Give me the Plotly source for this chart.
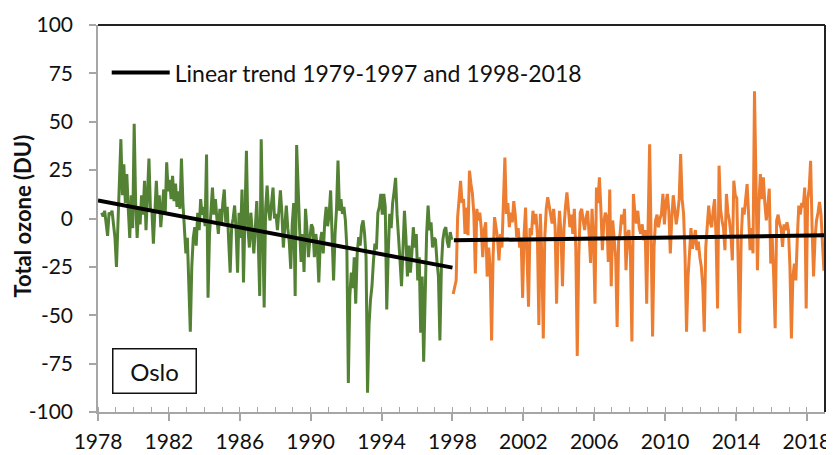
import plotly.graph_objects as go

# ---------------- data ----------------
# Green series: monthly anomalies, starting March 1978 (through Dec 1997)
green_start = (1978, 3)
green_values = [
    # 1978 (Mar-Dec)
    3, 1, 4, -2, -9, 3, 2, 4, -3, -10,
    # 1979
    -25, -2, 15, 41, 12, 28, 8, 23, 5, -10, 12, -5,
    # 1980
    49, 8, -10, 6, -3, 12, 2, 19.5, -6, 10, 31, 5,
    # 1981
    4, -13, 8, 19.5, 3, 12, -4.5, 6, 15, 2, 29, 14,
    # 1982
    20, 10, 22, 9, 18, 6, 14, 5, 31, 8, -5, -18,
    # 1983
    -10, -30, -58.5, -25, -10, -4.5, -14, 3, -6, 10, 2, 6,
    # 1984
    -4, 33, -41, -8, 4, 16, 2, 10, 0, -8, 5, -3,
    # 1985
    8, 15, -2, 6, -12, -28, -4, 0, 6.7, -6, -28, 3,
    # 1986
    -10, 15, -33, 5, 35, -5, -15, 3, -8, -18, -5, 9,
    # 1987
    -12, -40, 41, 2, -46, 5, 17, 4, -1, 8, 16, 0,
    # 1988
    2.4, -6, 5, 14.5, 3, -15, -4, 6.7, -5, -12, -26, -3,
    # 1989
    8, -40, 38, 10, -5, -22.5, -8, -27.6, 5, -6, -20, -10,
    # 1990
    -3, -5, -20, -8, -15, -33, -12, -7, -18, -2, 6, -4,
    # 1991
    2, 14.5, -6, -32, -8, 5, 30, 4, 10, 2.4, 6, -1,
    # 1992
    -15, -85, -40, -28, -36, -20, -44, -18, -9.6, -14, -4, -1,
    # 1993
    -8, -20, -90, -55, -42, -35, -22, -13, -16, 3, 6, 12.7,
    # 1994
    2, 12.7, 6, -47, -18, 2.4, -5, 8, 14, 21, 2, -8,
    # 1995
    -21.6, -35, -12, 4, -10, -30, -14, -28, -18, -4.5, -15, -8,
    # 1996
    -32, -20, -59, -30, -74, -40, -8, 6.7, -6, -2, -15, -10,
    # 1997
    -11, -22, -30, -63, -25, -11, -6, -4.5, -12, -15, -7, -11,
]

# Orange series: monthly anomalies, starting January 1998 (through Dec 2018)
orange_start = (1998, 1)
orange_values = [
    -39, -35, -32, 0.7, 12, 19.5, 8, 10, -8, 5.7,
    -8.6, 24.7, 18, 13, 2, -28.4, 5, -1, 3, -5, -20, -6,
    -2, -30, -15, -25, -63, -20, 0.7, -5, -10, -21.6, -8, -15,
    5, 31.5, 2.4, 8, -4.5, 3, -2, 9, 2, -9.6, -5, -15,
    -10, -41, -8, 5.7, -20, -45.6, -5, -8.6, 4, -3, 2.4, -8,
    -55, 2.4, -20, -62, -10, 5, 11, 7, 3, -2.6, 5, -4.5,
    -44, -10, 4, -8, -35, -5, 6, 13.5, 5, -4.5, 2, -8,
    5, -15, -71, -20, 3, 5, -1, -6, 0.7, 4, -8, -23,
    5, -10, -44, 16, 8, 21.3, 5, -16.4, -2, 3, 0.7, -22.5,
    15, -35, -1, -10, -20, -56, -12, -7.9, 2, -3, 5, -26.7,
    -8, -6, -20, -63.6, 12.7, 3, -2.6, 4, -5, -7.9, -3, -11.3,
    -6, -44, -5, 38.4, -10, -61, -15, -1, 2, -4.5, 0, 2.4,
    12.7, -3, 8, 12.7, 4, -18, 0, 12, 5, -3, 2.4, 10,
    33.3, 10, 2.4, -20, -58.5, -30, -18, -5, -15.6, -10, -6, -16.4,
    -12, -20, -25, -35, -58.5, -15, -5.3, 6.7, -2, -4.5, 4, 10,
    -10, -46.5, 27.3, 5, -1, -5, -16.4, 12.7, 3, -1, -8, -21.6,
    19.5, 12, 10.5, -20, -59.3, -10, 5.7, 2, 10, 17.8, 2, -16.4,
    -5, -18, 65.8, 5, -26.7, 8, 23, 10, 21.3, 8, -1, 6,
    15.4, -23.3, -10, -30, -56.7, -1, 2, -2.6, -5, -14.7, -3, -6,
    -2, -6, -25, -62, -30, -23.3, -32, -10, 6.7, 2, 8, 5.7,
    16, -46.5, 10, 15, 29.8, -5, -30, -10, -1, 3, 8.6, 2.4, -10, -27,
]

# Linear trends (end points)
trend1_x = [1978.0, 1998.0]
trend1_y = [9.3, -25.4]
trend2_x = [1998.08, 2019.0]
trend2_y = [-11.3, -8.7]

legend_label = "Linear trend 1979-1997 and 1998-2018"
station = "Oslo"
y_title = "Total ozone (DU)"
x_ticks = [1978, 1982, 1986, 1990, 1994, 1998, 2002, 2006, 2010, 2014, 2018]
y_ticks = [-100, -75, -50, -25, 0, 25, 50, 75, 100]
y_tick_text = ["-100", "-75", "-50", "-25", "0", "25", "50", "75", "100"]


def month_positions(start, n):
    y0, m0 = start
    return [y0 + (m0 - 1 + i + 0.5) / 12.0 for i in range(n)]


green_x = month_positions(green_start, len(green_values))
orange_x = month_positions(orange_start, len(orange_values))

GREEN = "#548235"
ORANGE = "#ED7D31"
AXIS_GRAY = "#A6A6A6"
FONT = "Lato, 'Open Sans', sans-serif"

# The page body has an 8 px margin, so the figure is sized to fill the rest.
W, H = 826, 447
L, R, T, B = 90, 9, 17, 43
plot_w = W - L - R
plot_h = H - T - B

fig = go.Figure()
fig.add_trace(go.Scatter(x=green_x, y=green_values, mode="lines",
                         line=dict(color=GREEN, width=3), showlegend=False,
                         hoverinfo="skip"))
fig.add_trace(go.Scatter(x=orange_x, y=orange_values, mode="lines",
                         line=dict(color=ORANGE, width=3), showlegend=False,
                         hoverinfo="skip"))
fig.add_trace(go.Scatter(x=trend1_x, y=trend1_y, mode="lines",
                         line=dict(color="black", width=4),
                         name=legend_label, showlegend=True))
fig.add_trace(go.Scatter(x=trend2_x, y=trend2_y, mode="lines",
                         line=dict(color="black", width=4),
                         name=legend_label, showlegend=False))

fig.update_layout(
    width=W, height=H,
    margin=dict(l=L, r=R, t=T, b=B, autoexpand=False),
    paper_bgcolor="white", plot_bgcolor="white",
    font=dict(family=FONT, size=20, color="#111111"),
    showlegend=True,
    legend=dict(x=0.012, y=0.877, xanchor="left", yanchor="middle",
                bgcolor="rgba(0,0,0,0)", itemwidth=58,
                font=dict(family=FONT, size=23, color="#111111"),
                itemclick=False, itemdoubleclick=False),
    xaxis=dict(range=[1978, 2019.02], tickmode="array", tickvals=x_ticks,
               ticktext=[str(v) for v in x_ticks], automargin=False,
               showgrid=False, zeroline=False, showline=True,
               linecolor=AXIS_GRAY, linewidth=1.5,
               ticks="outside", ticklen=7, tickcolor=AXIS_GRAY, tickwidth=1.5,
               ticklabelstandoff=3,
               minor=dict(dtick=1, tick0=1978, ticks="inside", ticklen=5,
                          tickcolor=AXIS_GRAY, tickwidth=1.2, showgrid=False),
               tickfont=dict(size=21)),
    yaxis=dict(range=[-100, 100], tickmode="array", tickvals=y_ticks,
               ticktext=y_tick_text, automargin=False,
               showgrid=False, zeroline=False, showline=True,
               linecolor=AXIS_GRAY, linewidth=1.5,
               ticks="outside", ticklen=7, tickcolor=AXIS_GRAY, tickwidth=1.5,
               ticklabelstandoff=12, tickfont=dict(size=21)),
    shapes=[
        dict(type="line", xref="paper", yref="paper", x0=0, x1=1, y0=1, y1=1,
             line=dict(color="#222222", width=2)),
        dict(type="line", xref="paper", yref="paper", x0=1, x1=1, y0=0, y1=1,
             line=dict(color="#222222", width=2)),
    ],
    annotations=[
        dict(text="<b>" + y_title + "</b>", xref="paper", yref="paper",
             x=-75 / plot_w, y=0.505, xanchor="center", yanchor="middle",
             textangle=-90, showarrow=False,
             font=dict(family=FONT, size=22, color="#111111")),
        dict(text=station, xref="paper", yref="paper",
             x=(154 - 98) / plot_w, y=(412 - 371) / plot_h,
             xanchor="center", yanchor="middle", showarrow=False,
             width=82, height=43, bordercolor="#111111", borderwidth=1.5,
             borderpad=0, bgcolor="white",
             font=dict(family=FONT, size=24, color="#111111")),
    ],
)

fig.write_html("out.html")
